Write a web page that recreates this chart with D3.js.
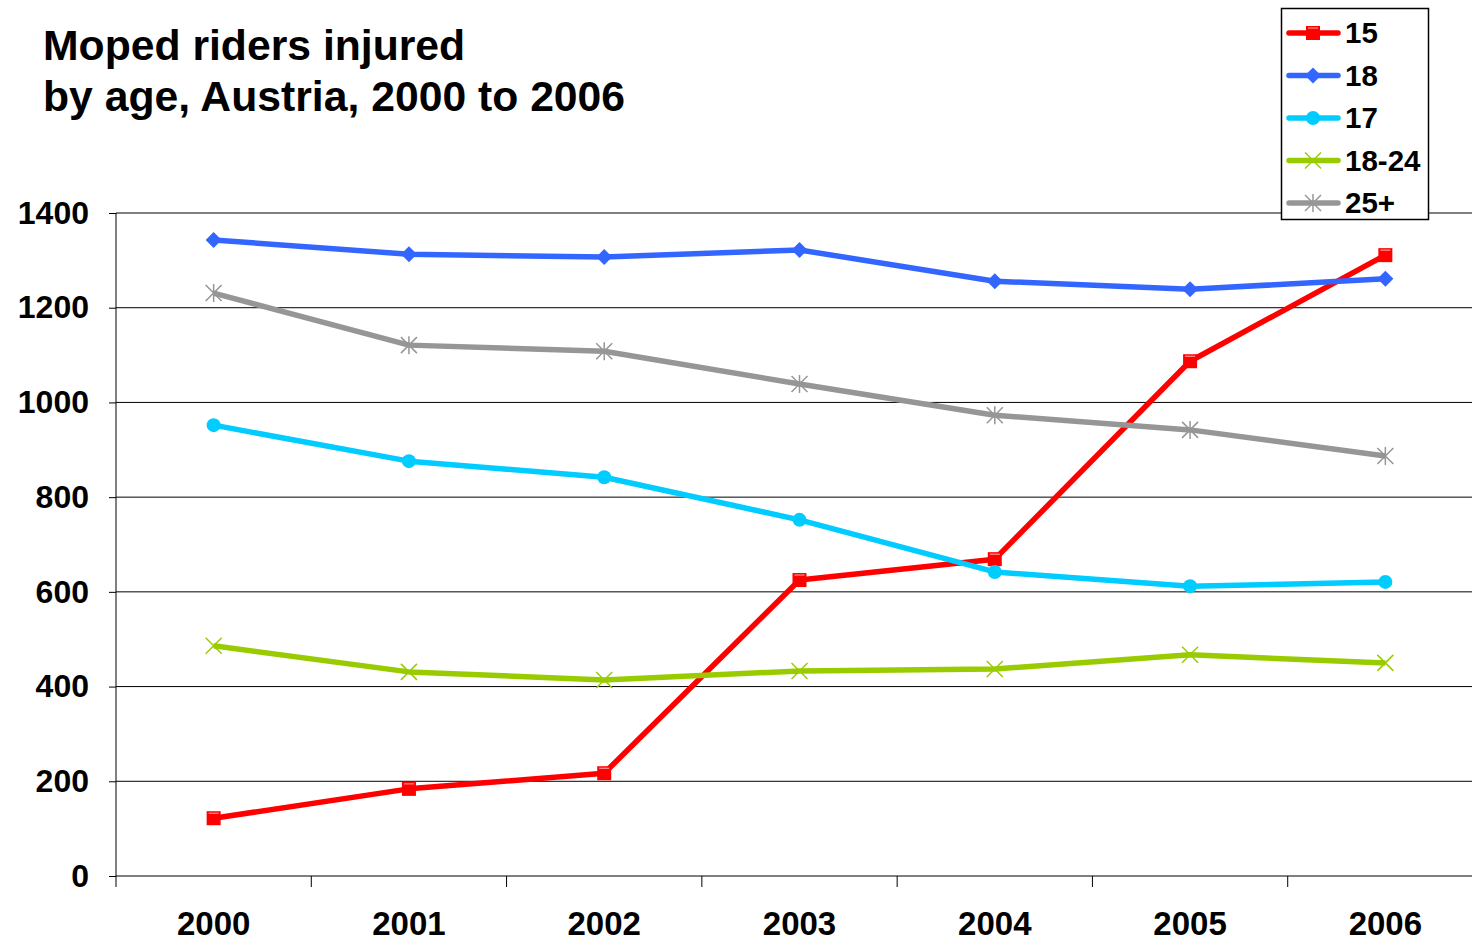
<!DOCTYPE html>
<html>
<head>
<meta charset="utf-8">
<script src="https://cdn.jsdelivr.net/npm/d3@7"></script>
<style>
  body { margin: 0; background: #fff; }
  text { font-family: Arial, 'Liberation Sans', sans-serif; font-weight: bold; }
</style>
</head>
<body>
<div id="chart"></div>
<script>
// data
const years = ['2000', '2001', '2002', '2003', '2004', '2005', '2006']
const age15 = [122, 184, 217, 625, 669, 1087, 1311]
const age18 = [1343, 1313, 1307, 1322, 1256, 1239, 1261]
const age17 = [952, 876, 842, 752, 642, 612, 621]
const age18to24 = [486, 431, 414, 433, 437, 467, 450]
const age25plus = [1231, 1121, 1108, 1039, 973, 942, 887]
const yTicks = [0, 200, 400, 600, 800, 1000, 1200, 1400]

const series = [
  { name: '15', values: age15, color: '#ff0000', marker: 'square' },
  { name: '18', values: age18, color: '#3366ff', marker: 'diamond' },
  { name: '17', values: age17, color: '#00ccff', marker: 'circle' },
  { name: '18-24', values: age18to24, color: '#99cc00', marker: 'x' },
  { name: '25+', values: age25plus, color: '#969696', marker: 'star' }
]

// sizes
const width = 1472
const height = 941

const svg = d3.select('#chart')
  .append('svg')
  .attr('width', width)
  .attr('height', height)

const x = d3.scaleBand().domain(years).range([116, 1483])
const y = d3.scaleLinear().domain([0, 1400]).range([876, 213])

// title
svg.append('text')
  .attr('x', 43).attr('y', 60)
  .style('font-size', '42.7px')
  .text('Moped riders injured')
svg.append('text')
  .attr('x', 43).attr('y', 111)
  .style('font-size', '42.7px')
  .text('by age, Austria, 2000 to 2006')

// gridlines
svg.append('g')
  .selectAll('line')
  .data(yTicks.slice(1))
  .enter().append('line')
  .attr('x1', 116).attr('x2', width)
  .attr('y1', d => y(d)).attr('y2', d => y(d))
  .attr('stroke', '#000').attr('stroke-width', 1)

// y axis
const yAxis = svg.append('g')
  .attr('transform', 'translate(116,0)')
  .call(d3.axisLeft(y).tickValues(yTicks).tickFormat(d3.format('d')).tickSize(7).tickPadding(20))
yAxis.select('.domain').attr('stroke', '#000').attr('d', `M0,${y(1400)}V${y(0)}`)
yAxis.selectAll('text').style('font-size', '32px').attr('fill', '#000')

// x axis
const xAxis = svg.append('g')
  .attr('transform', 'translate(0,876)')
  .call(d3.axisBottom(x).tickSize(0).tickPadding(36))
xAxis.select('.domain').attr('d', `M116,0H${width}`).attr('stroke', '#000')
xAxis.selectAll('text').style('font-size', '33px').attr('fill', '#000')
svg.append('g')
  .selectAll('line')
  .data(d3.range(years.length + 1))
  .enter().append('line')
  .attr('x1', i => 116 + i * x.step()).attr('x2', i => 116 + i * x.step())
  .attr('y1', 876).attr('y2', 887)
  .attr('stroke', '#000')

const line = d3.line()
  .x((d, i) => x(years[i]) + x.bandwidth() / 2)
  .y(d => y(d))

function drawMarker (g, type, color) {
  if (type === 'square') {
    g.append('rect').attr('x', -7).attr('y', -7).attr('width', 14).attr('height', 14).attr('fill', color)
    g.append('line').attr('x1', -5).attr('x2', 5).attr('y1', -5).attr('y2', -5).attr('stroke', '#ffb0b0').attr('stroke-width', 1)
  } else if (type === 'diamond') {
    g.append('path').attr('d', 'M0,-8L8,0L0,8L-8,0Z').attr('fill', color)
  } else if (type === 'circle') {
    g.append('circle').attr('r', 7).attr('fill', color)
  } else if (type === 'x') {
    g.append('path').attr('d', 'M-8,-8L8,8M-8,8L8,-8').attr('stroke', color).attr('stroke-width', 1.5)
  } else if (type === 'star') {
    g.append('path').attr('d', 'M-8,-8L8,8M-8,8L8,-8M0,-9V9').attr('stroke', color).attr('stroke-width', 1.5)
  }
}

// lines and markers
series.forEach(s => {
  svg.append('path')
    .datum(s.values)
    .attr('d', line)
    .attr('fill', 'none')
    .attr('stroke', s.color)
    .attr('stroke-width', 5.5)
    .attr('stroke-linejoin', 'round')
  s.values.forEach((v, i) => {
    const g = svg.append('g')
      .attr('transform', `translate(${x(years[i]) + x.bandwidth() / 2},${y(v)})`)
    drawMarker(g, s.marker, s.color)
  })
})

// legend
const legend = svg.append('g')
legend.append('rect')
  .attr('x', 1281.5).attr('y', 8.5).attr('width', 147).attr('height', 211)
  .attr('fill', '#fff').attr('stroke', '#000').attr('stroke-width', 1.5)
series.forEach((s, i) => {
  const ly = 33 + i * 42.5
  legend.append('line')
    .attr('x1', 1289).attr('x2', 1338).attr('y1', ly).attr('y2', ly)
    .attr('stroke', s.color).attr('stroke-width', 5.5).attr('stroke-linecap', 'round')
  const g = legend.append('g').attr('transform', `translate(1313,${ly})`)
  drawMarker(g, s.marker, s.color)
  legend.append('text')
    .attr('x', 1345).attr('y', ly + 10)
    .style('font-size', '29.5px')
    .text(s.name)
})
</script>
</body>
</html>
